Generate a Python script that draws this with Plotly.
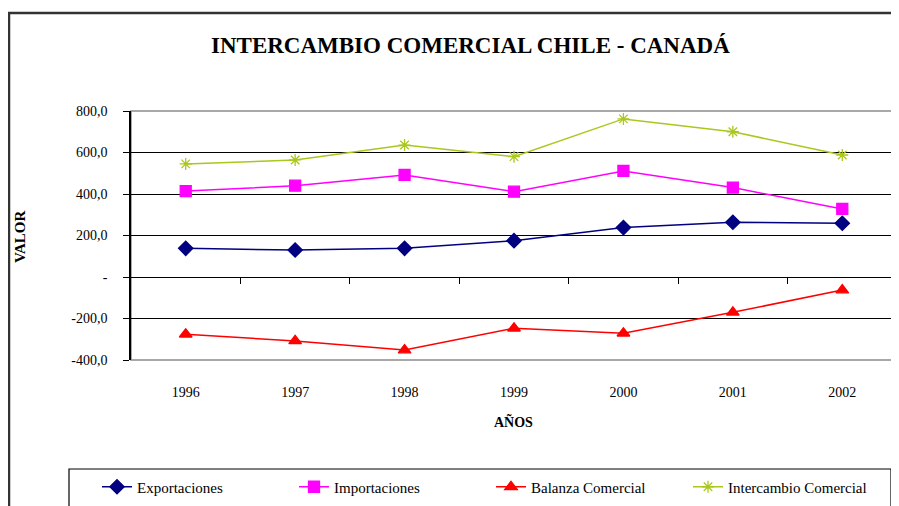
import plotly.graph_objects as go

years = [1996, 1997, 1998, 1999, 2000, 2001, 2002]
year_labels = ["1996", "1997", "1998", "1999", "2000", "2001", "2002"]
exportaciones = [138, 130, 138, 175, 238, 264, 259]
importaciones = [414, 440, 492, 411, 511, 431, 328]
balanza = [-276, -308, -352, -247, -271, -170, -63]
intercambio = [545, 564, 636, 580, 762, 700, 588]
y_ticks = [-400, -200, 0, 200, 400, 600, 800]
y_tick_labels = ["-400,0", "-200,0", "-", "200,0", "400,0", "600,0", "800,0"]
boundaries = [1996.5, 1997.5, 1998.5, 1999.5, 2000.5, 2001.5]

# page has an 8px body margin
W, H = 891, 498
L, R, T, B = 123, 2, 103, 146
PW, PH = W - L - R, H - T - B
OFF = 8


def px(x):  # page x -> paper fraction
    return (x - OFF - L) / PW


def py(y):  # page y -> paper fraction
    return (H - B - (y - OFF)) / PH


FONT = "Liberation Serif"

fig = go.Figure()
series = [
    ("Exportaciones", exportaciones, "#000080", "diamond", 11),
    ("Importaciones", importaciones, "#FF00FF", "square", 11),
    ("Balanza Comercial", balanza, "#FF0000", "triangle-up", 11),
    ("Intercambio Comercial", intercambio, "#A9C81C", "asterisk-open", 10),
]
for name, vals, col, sym, size in series:
    fig.add_trace(go.Scatter(
        x=years, y=vals, name=name, mode="lines+markers",
        line=dict(color=col, width=1.5),
        marker=dict(symbol=sym, size=size, color=col, line=dict(color=col, width=1.3)),
    ))

# invisible trace for zero-crossing axis
fig.add_trace(go.Scatter(x=years, y=[None]*7, xaxis="x2", showlegend=False, hoverinfo="skip"))

fig.update_layout(
    width=W, height=H,
    margin=dict(l=L, r=R, t=T, b=B),
    paper_bgcolor="white", plot_bgcolor="white",
    font=dict(family=FONT, color="black", size=12),
    showlegend=True,
    legend=dict(orientation="h", x=px(97), xanchor="left", y=py(487), yanchor="middle",
                font=dict(family=FONT, size=15, color="black"),
                entrywidth=152, bgcolor="rgba(0,0,0,0)", borderwidth=0,
                traceorder="normal"),
    xaxis=dict(range=[1995.5, 2002.5], tickvals=years, ticktext=year_labels,
               showgrid=False, zeroline=False, showline=False, ticks="",
               ticklabelstandoff=22, tickfont=dict(family=FONT, size=14)),
    xaxis2=dict(range=[1995.5, 2002.5], overlaying="x", anchor="free", position=1/3,
                tickvals=boundaries, showticklabels=False, ticks="outside", ticklen=6,
                tickcolor="black", showline=True, linecolor="black", linewidth=1.2,
                showgrid=False, zeroline=False),
    yaxis=dict(range=[-400, 800], tickvals=y_ticks, ticktext=y_tick_labels,
               showgrid=True, gridcolor="black", gridwidth=1, zeroline=False,
               showline=True, linecolor="black", linewidth=1.5,
               ticks="outside", ticklen=6, tickcolor="black",
               tickfont=dict(family=FONT, size=14), ticklabelstandoff=13),
    shapes=[
        dict(type="rect", xref="paper", yref="paper", x0=0, x1=1, y0=0, y1=1,
             line=dict(color="#8c8c8c", width=1.5), layer="below"),
        dict(type="rect", xref="paper", yref="paper", x0=px(9), x1=px(910), y0=py(13), y1=py(520),
             line=dict(color="#333333", width=2.5), layer="below"),
        dict(type="rect", xref="paper", yref="paper", x0=px(69), x1=px(891), y0=py(469), y1=py(520),
             line=dict(color="black", width=1.2), layer="below"),
    ],
    annotations=[
        dict(text="<b>INTERCAMBIO COMERCIAL CHILE - CANADÁ</b>", xref="paper", yref="paper",
             x=px(470), y=py(45), xanchor="center", yanchor="middle", showarrow=False,
             font=dict(family=FONT, size=23)),
        dict(text="<b>VALOR</b>", xref="paper", yref="paper", x=px(20), y=py(237),
             xanchor="center", yanchor="middle", textangle=-90, showarrow=False,
             font=dict(family=FONT, size=15)),
        dict(text="<b>AÑOS</b>", xref="paper", yref="paper", x=px(513), y=py(421),
             xanchor="center", yanchor="middle", showarrow=False,
             font=dict(family=FONT, size=14)),
    ],
)

fig.write_html("out.html")
